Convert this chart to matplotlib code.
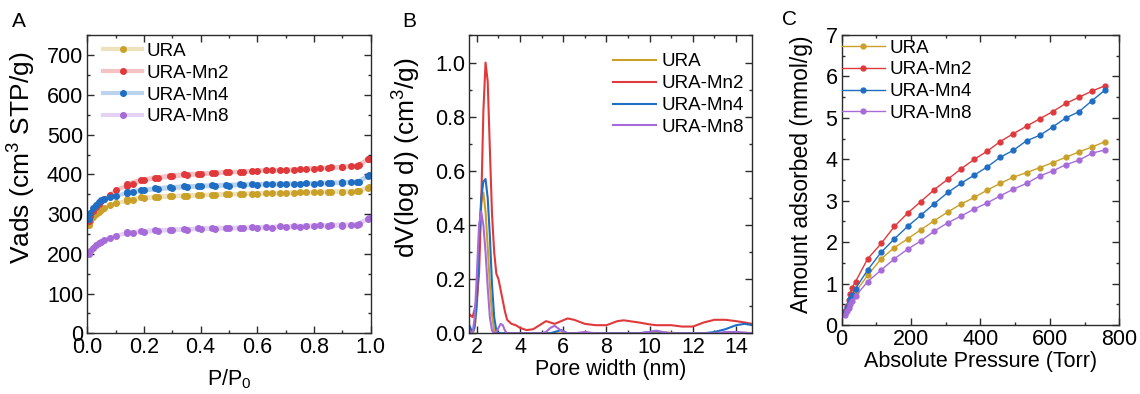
import matplotlib
matplotlib.use('Agg')
import matplotlib.pyplot as plt
from matplotlib.ticker import MultipleLocator, FormatStrFormatter

plt.rcParams['font.family'] = ['Liberation Sans', 'DejaVu Sans']
plt.rcParams['mathtext.fontset'] = 'custom'
plt.rcParams['mathtext.rm'] = 'Liberation Sans'
plt.rcParams['mathtext.it'] = 'Liberation Sans:italic'
plt.rcParams['mathtext.default'] = 'regular'

names = ['URA', 'URA-Mn2', 'URA-Mn4', 'URA-Mn8']
colors = ['#c9a028', '#e0393c', '#1f6ec4', '#a66bd8']

# --- panel A: N2 isotherms (adsorption + desorption branch)
p_ads = [0.005, 0.01, 0.02, 0.03, 0.04, 0.05, 0.06, 0.08, 0.10, 0.14, 0.16, 0.20, 0.25, 0.30,
         0.35, 0.40, 0.45, 0.50, 0.55, 0.60, 0.65, 0.70, 0.75, 0.80, 0.85, 0.90, 0.95, 0.995]
p_des = [0.99, 0.96, 0.93, 0.90, 0.86, 0.82, 0.77, 0.73, 0.68, 0.63, 0.58, 0.54, 0.49, 0.44,
         0.39, 0.34, 0.29, 0.24, 0.19, 0.14]
ura_ads = [272, 282, 292, 300, 306, 311, 315, 322, 328, 333, 336, 340, 343, 345, 346, 348, 349,
           350, 351, 352, 353, 354, 355, 355, 356, 357, 358, 368]
ura_des = [366, 358, 357, 357, 356, 356, 355, 354, 353, 353, 352, 351, 350, 349, 348, 347, 346,
           344, 342, 337]
mn2_ads = [282, 295, 308, 318, 326, 333, 338, 348, 360, 372, 377, 386, 391, 395, 398, 401, 403,
           405, 407, 409, 410, 411, 413, 415, 416, 418, 421, 440]
mn2_des = [438, 423, 421, 419, 418, 416, 414, 412, 411, 410, 409, 407, 406, 404, 402, 400, 397,
           392, 387, 376]
mn4_ads = [288, 302, 315, 323, 330, 335, 338, 342, 345, 354, 355, 360, 363, 366, 368, 370, 371,
           372, 373, 374, 375, 376, 376, 377, 378, 379, 380, 399]
mn4_des = [397, 381, 380, 380, 379, 379, 378, 377, 377, 376, 376, 375, 374, 373, 371, 370, 368,
           365, 361, 356]
mn8_ads = [200, 208, 216, 222, 227, 231, 234, 240, 246, 252, 253, 256, 258, 260, 261, 263, 263,
           264, 265, 266, 266, 267, 268, 269, 270, 271, 273, 291]
mn8_des = [289, 275, 274, 274, 273, 272, 271, 270, 269, 268, 267, 266, 266, 265, 264, 262, 261,
           260, 257, 254]

# --- panel B: pore size distribution
width_nm = [1.65, 1.8, 1.9, 2.0, 2.1, 2.2, 2.3, 2.4, 2.5, 2.6, 2.7, 2.8, 2.9, 3.0, 3.1, 3.2,
            3.3, 3.4, 3.6, 3.8, 4.0, 4.3, 4.6, 5.0, 5.2, 5.4, 5.6, 5.9, 6.2, 6.5, 7.0, 7.5,
            8.0, 8.5, 8.8, 9.5, 10.0, 10.3, 10.6, 11.0, 11.5, 12.0, 12.5, 13.0, 13.5, 14.0,
            14.4, 14.75]
psd_ura = [0.02, 0.0, 0.02, 0.10, 0.30, 0.48, 0.52, 0.45, 0.32, 0.18, 0.07, 0.01, 0.0, 0.0,
           0.0, 0.0, 0.0, 0.0, 0.0, 0.0, 0.0, 0.0, 0.0, 0.0, 0.0, 0.0, 0.0, 0.0, 0.0, 0.0,
           0.0, 0.0, 0.0, 0.0, 0.0, 0.0, 0.002, 0.004, 0.003, 0.002, 0.0, 0.0, 0.0, 0.0,
           0.0, 0.0, 0.0, 0.0]
psd_mn2 = [0.07, 0.06, 0.09, 0.13, 0.22, 0.48, 0.82, 1.0, 0.93, 0.68, 0.44, 0.30, 0.22, 0.20,
           0.16, 0.12, 0.08, 0.05, 0.035, 0.03, 0.02, 0.012, 0.015, 0.035, 0.045, 0.04, 0.035,
           0.045, 0.055, 0.05, 0.035, 0.03, 0.03, 0.045, 0.048, 0.04, 0.033, 0.03, 0.03, 0.03,
           0.025, 0.025, 0.04, 0.05, 0.05, 0.045, 0.04, 0.035]
psd_mn4 = [0.03, 0.0, 0.03, 0.12, 0.35, 0.50, 0.56, 0.57, 0.50, 0.36, 0.18, 0.06, 0.01, 0.0,
           0.0, 0.0, 0.0, 0.0, 0.0, 0.0, 0.0, 0.0, 0.0, 0.0, 0.0, 0.0, 0.005, 0.012, 0.0, 0.0,
           0.0, 0.0, 0.0, 0.0, 0.0, 0.0, 0.005, 0.008, 0.003, 0.0, 0.0, 0.0, 0.0, 0.005,
           0.015, 0.03, 0.035, 0.03]
psd_mn8 = [0.01, 0.0, 0.06, 0.22, 0.40, 0.45, 0.40, 0.30, 0.17, 0.06, 0.01, 0.0, 0.005, 0.02,
           0.035, 0.03, 0.01, 0.0, 0.0, 0.0, 0.0, 0.0, 0.0, 0.0, 0.005, 0.02, 0.028, 0.01,
           0.0, 0.0, 0.005, 0.0, 0.0, 0.0, 0.0, 0.0, 0.005, 0.01, 0.005, 0.0, 0.0, 0.0, 0.0,
           0.0, 0.005, 0.005, 0.003, 0.0]

# --- panel C: CO2 uptake
p_torr = [10, 15, 20, 25, 30, 40, 75, 114, 152, 190, 228, 267, 306, 344, 382, 420, 457, 495,
          533, 571, 608, 646, 684, 722, 760]
up_ura = [0.28, 0.38, 0.47, 0.56, 0.65, 0.80, 1.20, 1.60, 1.87, 2.08, 2.30, 2.52, 2.73, 2.92,
          3.08, 3.26, 3.42, 3.57, 3.68, 3.80, 3.92, 4.05, 4.18, 4.30, 4.43]
up_mn2 = [0.35, 0.45, 0.60, 0.75, 0.90, 1.05, 1.60, 1.97, 2.38, 2.70, 2.98, 3.27, 3.52, 3.77,
          4.00, 4.20, 4.43, 4.62, 4.80, 4.98, 5.15, 5.35, 5.50, 5.65, 5.78]
up_mn4 = [0.30, 0.42, 0.52, 0.62, 0.72, 0.88, 1.33, 1.76, 2.08, 2.38, 2.65, 2.93, 3.20, 3.42,
          3.62, 3.82, 4.05, 4.22, 4.45, 4.58, 4.78, 5.00, 5.15, 5.42, 5.68]
up_mn8 = [0.25, 0.33, 0.42, 0.50, 0.57, 0.70, 1.05, 1.33, 1.60, 1.83, 2.03, 2.27, 2.47, 2.63,
          2.80, 2.95, 3.12, 3.28, 3.42, 3.60, 3.72, 3.87, 3.98, 4.15, 4.23]

TICK = 15.5
LAB = 15.5
LEG = 13.5


def style_axes(ax):
    for s in ax.spines.values():
        s.set_linewidth(1.0)
        s.set_color('#2b2b2b')
    ax.tick_params(which='both', direction='in', top=True, right=True, labelsize=TICK,
                   width=1.0, color='#2b2b2b', pad=3)
    ax.tick_params(which='major', length=5)
    ax.tick_params(which='minor', length=2.5)


def add_legend(ax, anchor, hlen, hpad):
    ax.legend(loc='upper left', bbox_to_anchor=anchor, frameon=False, fontsize=LEG,
              borderpad=0, borderaxespad=0, handlelength=hlen, handletextpad=hpad,
              labelspacing=0.25)


fig = plt.figure(figsize=(11.4, 3.94), dpi=100)
axA = fig.add_axes([0.0766, 0.154, 0.2486, 0.756])
axB = fig.add_axes([0.4117, 0.154, 0.2482, 0.756])
axC = fig.add_axes([0.7383, 0.175, 0.2435, 0.736])

# A
iso = [(ura_ads, ura_des), (mn2_ads, mn2_des), (mn4_ads, mn4_des), (mn8_ads, mn8_des)]
for (ya, yd), c, n in zip(iso, colors, names):
    rgb = matplotlib.colors.to_rgb(c)
    axA.plot(p_ads + p_des, ya + yd, '-o', color=rgb + (0.3,), lw=3.0, ms=4.0,
             mfc=c, mec=c, label=n)
axA.set_xlim(0, 1.0)
axA.set_ylim(0, 750)
axA.xaxis.set_major_locator(MultipleLocator(0.2))
axA.xaxis.set_minor_locator(MultipleLocator(0.1))
axA.yaxis.set_major_locator(MultipleLocator(100))
axA.yaxis.set_minor_locator(MultipleLocator(50))
axA.xaxis.set_major_formatter(FormatStrFormatter('%.1f'))
axA.set_xlabel('P/P$_0$', fontsize=LAB)
axA.set_ylabel('Vads (cm$^3$ STP/g)', fontsize=19)
axA.xaxis.set_label_coords(0.5, -0.115)
axA.yaxis.set_label_coords(-0.175, 0.59)
style_axes(axA)
add_legend(axA, (0.055, 0.975), 2.1, 0.25)

# B
for y, c, n in zip([psd_ura, psd_mn2, psd_mn4, psd_mn8], colors, names):
    axB.plot(width_nm, y, '-', color=c, lw=1.5, label=n)
axB.set_xlim(1.65, 14.75)
axB.set_ylim(0, 1.1)
axB.xaxis.set_major_locator(MultipleLocator(2))
axB.xaxis.set_minor_locator(MultipleLocator(1))
axB.yaxis.set_major_locator(MultipleLocator(0.2))
axB.yaxis.set_minor_locator(MultipleLocator(0.1))
axB.yaxis.set_major_formatter(FormatStrFormatter('%.1f'))
axB.set_xlabel('Pore width (nm)', fontsize=LAB)
axB.set_ylabel('dV(log d) (cm$^3$/g)', fontsize=19)
axB.xaxis.set_label_coords(0.5, -0.085)
axB.yaxis.set_label_coords(-0.165, 0.59)
style_axes(axB)
add_legend(axB, (0.508, 0.94), 2.3, 0.3)

# C
for y, c, n in zip([up_ura, up_mn2, up_mn4, up_mn8], colors, names):
    axC.plot(p_torr, y, '-o', color=c, lw=1.0, ms=3.5, label=n)
axC.set_xlim(0, 800)
axC.set_ylim(0, 7)
axC.xaxis.set_major_locator(MultipleLocator(200))
axC.xaxis.set_minor_locator(MultipleLocator(100))
axC.yaxis.set_major_locator(MultipleLocator(1))
axC.yaxis.set_minor_locator(MultipleLocator(0.5))
axC.set_xlabel('Absolute Pressure (Torr)', fontsize=LAB)
axC.set_ylabel('Amount adsorbed (mmol/g)', fontsize=16.5)
axC.xaxis.set_label_coords(0.5, -0.09)
axC.yaxis.set_label_coords(-0.103, 0.52)
style_axes(axC)
add_legend(axC, (0.0, 0.985), 2.3, 0.25)

# panel letters
fig.text(12 / 1140, 1 - 12 / 394, 'A', fontsize=15, va='top', ha='left')
fig.text(402 / 1140, 1 - 12 / 394, 'B', fontsize=15, va='top', ha='left')
fig.text(782 / 1140, 1 - 10 / 394, 'C', fontsize=15, va='top', ha='left')

fig.savefig('out.png', dpi=100)
